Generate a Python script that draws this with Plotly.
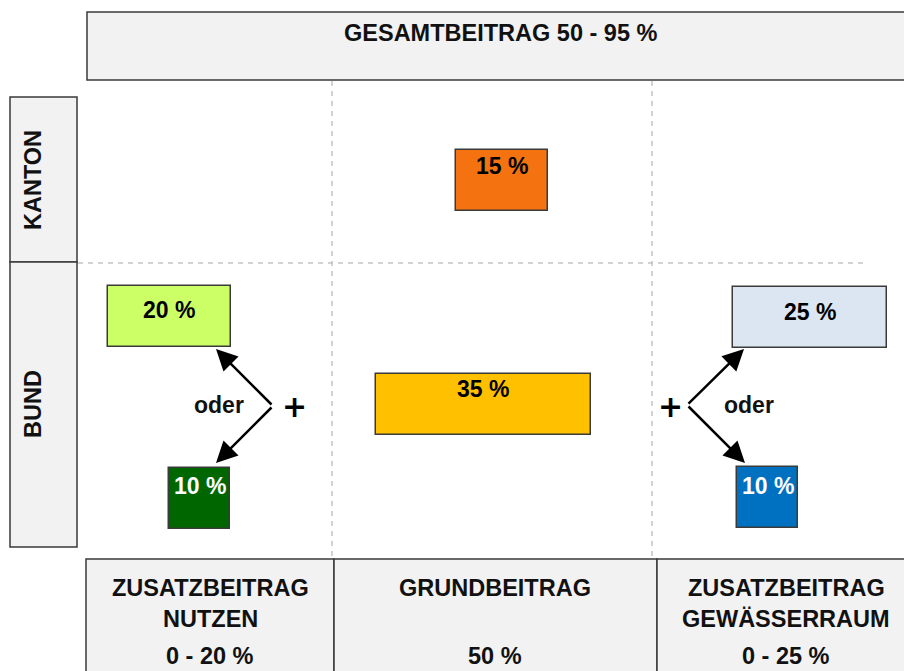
import plotly.graph_objects as go

# ---- data ----
share_labels = ["15 %", "20 %", "10 %", "35 %", "25 %", "10 %"]
share_values = [15, 20, 10, 35, 25, 10]
share_colors = ["#F47210", "#CCFF66", "#006600", "#FFC000", "#DCE6F2", "#0070C0"]
share_text_colors = ["#000000", "#000000", "#FFFFFF", "#000000", "#000000", "#FFFFFF"]

row_labels = ["KANTON", "BUND"]
col_labels = ["ZUSATZBEITRAG<br>NUTZEN", "GRUNDBEITRAG", "ZUSATZBEITRAG<br>GEWÄSSERRAUM"]
col_ranges = ["0 - 20 %", "50 %", "0 - 25 %"]
title_text = "GESAMTBEITRAG 50 - 95 %"
connector_word = "oder"

# ---- layout (pixel space) ----
W, H = 904, 671
PX_PER_PCT = 6.14
BOX_H = 61
box_left = [456, 108, 169, 376, 733, 737]
box_top = [150, 286, 468, 374, 287, 467]
label_dy = [16, 24, 18, 15, 25, 19]

FONT = "Liberation Sans, Arial, sans-serif"
FRAME_FILL = "#F2F2F2"
FRAME_LINE = "#3A3A3A"
DASH_COLOR = "#C4C4C4"

fig = go.Figure()

# coloured share boxes (width proportional to share)
fig.add_trace(go.Bar(
    orientation="h",
    base=box_left,
    x=[v * PX_PER_PCT for v in share_values],
    y=[t + BOX_H / 2 for t in box_top],
    width=[BOX_H] * len(share_values),
    marker=dict(color=share_colors, line=dict(color="#3A3A3A", width=1.5)),
    hoverinfo="skip",
    showlegend=False,
))

shapes = []
# header box
shapes.append(dict(type="rect", x0=87, x1=912, y0=12, y1=80,
                   fillcolor=FRAME_FILL, line=dict(color=FRAME_LINE, width=1.5), layer="below"))
# side boxes
shapes.append(dict(type="rect", x0=10, x1=77, y0=97, y1=262,
                   fillcolor=FRAME_FILL, line=dict(color=FRAME_LINE, width=1.5), layer="below"))
shapes.append(dict(type="rect", x0=10, x1=77, y0=262, y1=547,
                   fillcolor=FRAME_FILL, line=dict(color=FRAME_LINE, width=1.5), layer="below"))
# bottom boxes
col_edges = [86, 334, 657, 912]
for i in range(3):
    shapes.append(dict(type="rect", x0=col_edges[i], x1=col_edges[i + 1], y0=559, y1=690,
                       fillcolor=FRAME_FILL, line=dict(color=FRAME_LINE, width=1.5), layer="below"))
# dashed grid lines
for xv in (332, 652):
    shapes.append(dict(type="line", x0=xv, x1=xv, y0=81, y1=558,
                       line=dict(color=DASH_COLOR, width=1.5, dash="5px,5px"), layer="below"))
shapes.append(dict(type="line", x0=78, x1=864, y0=263, y1=263,
                   line=dict(color=DASH_COLOR, width=1.5, dash="5px,5px"), layer="below"))

ann = []
# title
ann.append(dict(x=500, y=33, text=f"<b>{title_text}</b>", showarrow=False,
                font=dict(family=FONT, size=23.5, color="#111")))
# row labels
row_centers = [180, 404]
for lab, yc in zip(row_labels, row_centers):
    ann.append(dict(x=33, y=yc, text=f"<b>{lab}</b>", showarrow=False, textangle=-90,
                    font=dict(family=FONT, size=23.5, color="#111")))
# column labels
col_centers = [210, 495, 786]
for lab, rng, xc in zip(col_labels, col_ranges, col_centers):
    parts = lab.split("<br>")
    for j, p in enumerate(parts):
        ann.append(dict(x=xc, y=588 + 31 * j, text=f"<b>{p}</b>", showarrow=False,
                        font=dict(family=FONT, size=23.5, color="#111")))
    ann.append(dict(x=xc, y=656, text=f"<b>{rng}</b>", showarrow=False,
                    font=dict(family=FONT, size=23.5, color="#111")))
# share labels
for i, lab in enumerate(share_labels):
    xc = box_left[i] + share_values[i] * PX_PER_PCT / 2
    ann.append(dict(x=xc, y=box_top[i] + label_dy[i], text=f"<b>{lab}</b>", showarrow=False,
                    font=dict(family=FONT, size=23, color=share_text_colors[i])))

# connectors: "oder" and "+"
ann.append(dict(x=219, y=405, text=f"<b>{connector_word}</b>", showarrow=False,
                font=dict(family=FONT, size=23, color="#111")))
ann.append(dict(x=749, y=405, text=f"<b>{connector_word}</b>", showarrow=False,
                font=dict(family=FONT, size=23, color="#111")))
ann.append(dict(x=294, y=406, text="<b>+</b>", showarrow=False,
                font=dict(family="DejaVu Sans, sans-serif", size=30, color="#000")))
ann.append(dict(x=670, y=406, text="<b>+</b>", showarrow=False,
                font=dict(family="DejaVu Sans, sans-serif", size=30, color="#000")))

# arrows
arrows = [((273, 406), (216, 349)), ((273, 406), (216, 463)),
          ((687, 405), (744, 349)), ((687, 405), (745, 463))]
for (sx, sy), (tx, ty) in arrows:
    ann.append(dict(x=tx, y=ty, ax=sx, ay=sy, xref="x", yref="y", axref="x", ayref="y",
                    text="", showarrow=True, arrowhead=2, arrowsize=1.7, arrowwidth=2.5,
                    arrowcolor="#000", standoff=0, startstandoff=0))

fig.update_layout(
    width=W, height=H,
    margin=dict(l=0, r=0, t=0, b=0),
    paper_bgcolor="white", plot_bgcolor="white",
    xaxis=dict(range=[0, W], visible=False, fixedrange=True),
    yaxis=dict(range=[H, 0], visible=False, fixedrange=True),
    shapes=shapes, annotations=ann,
    barmode="overlay", bargap=0,
)

fig.write_html("out.html", config={"displayModeBar": False},
               post_script="document.body.style.margin='0';document.body.style.overflow='hidden';")
